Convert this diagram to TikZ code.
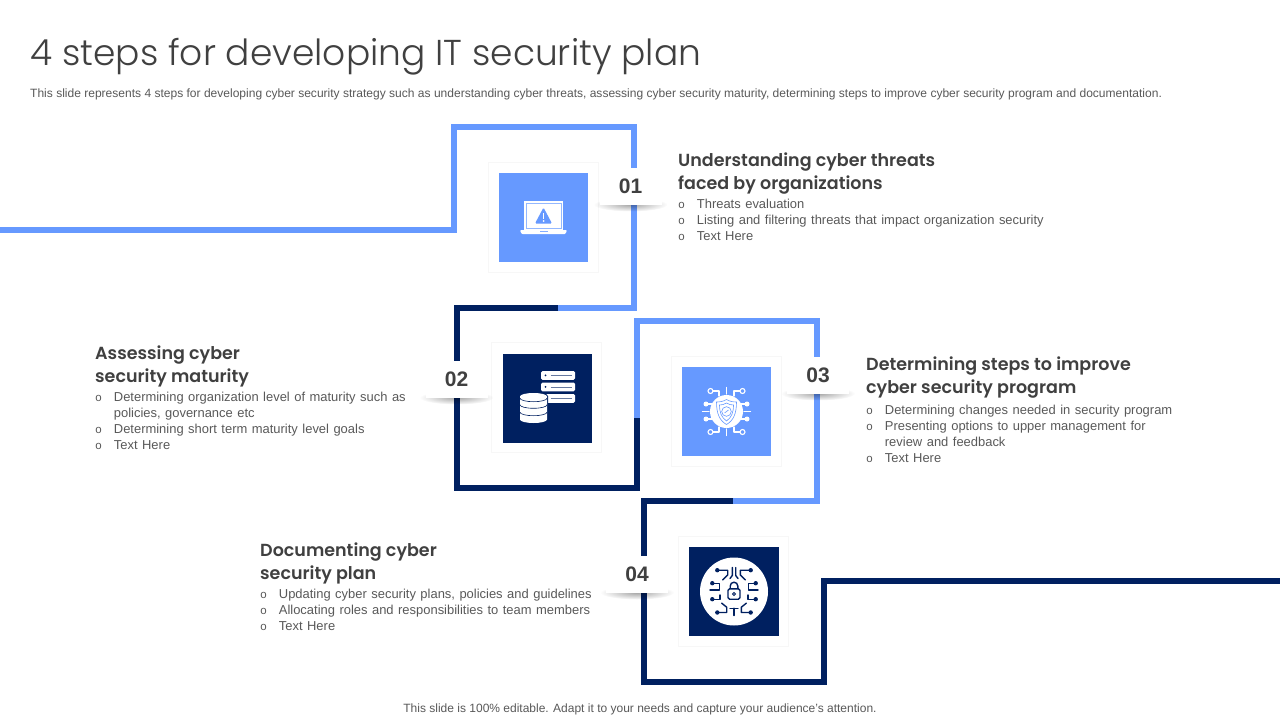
\documentclass[tikz,border=0pt]{standalone}
\usepackage{fontspec}
\setmainfont{Liberation Sans}
\newfontfamily\titlefont{Poppins Light}
\newfontfamily\headfont{Poppins SemiBold}
\newfontfamily\itemfont{Liberation Sans}[WordSpace=1.25]
\newfontfamily\bulletfont{Liberation Mono}
\usetikzlibrary{positioning, fadings}

\definecolor{lightblue}{HTML}{6699FF}
\definecolor{darkblue}{HTML}{002060}
\definecolor{headgray}{HTML}{404040}
\definecolor{bodygray}{HTML}{595959}

\tikzfading[name=softshadow, inner color=transparent!65, outer color=transparent!100]

\tikzset{
  track/.style={line width=6pt, miter limit=10},
  tile/.style={draw=black!3, fill=white, line width=1pt, minimum width=110pt, minimum height=110pt, inner sep=0pt},
  iconbox/.style={minimum width=89.5pt, minimum height=89.5pt, inner sep=0pt},
  badge/.style={fill=white, minimum width=62pt, minimum height=37pt, inner sep=0pt, font=\fontsize{21}{21}\selectfont\bfseries, text=headgray},
  head/.style={anchor=north west, inner sep=0pt, align=left, text=headgray, font=\headfont\fontsize{17.5}{23}\selectfont, execute at begin node={\rule{0pt}{14pt}}},
  items/.style={anchor=north west, inner sep=0pt, align=left, text=bodygray, font=\itemfont\fontsize{12.95}{16}\selectfont, execute at begin node={\rule{0pt}{10pt}}},
  wire/.style={line width=1.1pt, line cap=round, line join=round},
  darkwire/.style={darkblue, line width=1.4pt, line cap=round, line join=round}
}
\newcommand{\itm}{\makebox[18.7pt][l]{\bulletfont\fontsize{11.5}{11.5}\selectfont o}}
\newcommand{\cnt}{\makebox[18.7pt][l]{}}
% number badge with a soft shadow under it
\newcommand{\numbadge}[4]{
  \fill[black, path fading=softshadow] (#2,#3+18.5) ellipse (37 and 7);
  \node[badge] (#1) at (#2,#3) {#4};
}

\begin{document}
\begin{tikzpicture}[x=1pt, y=-1pt]
\useasboundingbox (0,0) rectangle (1280,720);
\fill[white] (0,0) rectangle (1280,720);

% corners of the track
\coordinate (t0) at (0,230);
\coordinate (t1) at (453.5,230);
\coordinate (t2) at (453.5,127);
\coordinate (t3) at (634,127);
\coordinate (t4) at (634,308);
\coordinate (t5) at (558,308);
\coordinate (t6) at (457,308);
\coordinate (t7) at (457,488);
\coordinate (t8) at (637,488);
\coordinate (t9) at (637,418);
\coordinate (t10) at (637,321);
\coordinate (t11) at (817,321);
\coordinate (t12) at (817,501);
\coordinate (t13) at (733,501);
\coordinate (t14) at (644,501);
\coordinate (t15) at (644,682);
\coordinate (t16) at (824,682);
\coordinate (t17) at (824,581);
\coordinate (t18) at (1280,581);

\draw[track, lightblue] (t0) -- (t1) -- (t2) -- (t3) -- (t4) -- (t5);
\draw[track, darkblue] (t5) -- (t6) -- (t7) -- (t8) -- (t9);
\draw[track, lightblue] (t9) -- (t10) -- (t11) -- (t12) -- (t13);
\draw[track, darkblue] (t13) -- (t14) -- (t15) -- (t16) -- (t17) -- (t18);

% tiles
\node[tile] (tileA) at (543.5,217) {};
\node[tile] (tileB) at (546.5,397.5) {};
\node[tile] (tileC) at (726.5,411) {};
\node[tile] (tileD) at (733.5,591) {};
\node[iconbox, fill=lightblue] (iconA) at (543.5,217.5) {};
\node[iconbox, fill=darkblue] (iconB) at (547.5,398.5) {};
\node[iconbox, fill=lightblue] (iconC) at (726.5,411.5) {};
\node[iconbox, fill=darkblue] (iconD) at (734,591.5) {};

% laptop
\begin{scope}[shift={(iconA)}]
\fill[white] (-19.5,-16.5) rectangle (19.5,12.5);
\draw[lightblue!70, line width=.8pt] (-17.5,-14.5) rectangle (17.5,10.5);
\fill[white, rounded corners=1pt] (-23.5,12.5) -- (23.5,12.5) -- (22,16.5) -- (-22,16.5) -- cycle;
\fill[lightblue!80] (-4,13.5) rectangle (4,14.3);
\fill[lightblue, rounded corners=1.2pt] (0,-10) -- (8.5,6) -- (-8.5,6) -- cycle;
\fill[white] (-.8,-5) rectangle (.8,1.5);
\fill[white] (0,3.5) circle (1pt);
\end{scope}

% servers and database
\begin{scope}[shift={(iconB)}]
\foreach \y in {-27.5,-16,-4.5} {
  \fill[white, rounded corners=1.5pt] (-6.5,\y) rectangle (27.5,\y+8.8);
  \draw[darkblue!60, line width=.7pt] (3,\y+4.4) -- (24.5,\y+4.4);
  \fill[darkblue] (-2,\y+4.4) circle (1pt);
}
\draw[darkblue, line width=2pt, fill=white] (-27.5,-2) arc[start angle=180, end angle=360, x radius=13.5, y radius=3.5] -- (-.5,21) arc[start angle=0, end angle=180, x radius=13.5, y radius=3.5] -- cycle;
\fill[white] (-27.5,-2) arc[start angle=180, end angle=360, x radius=13.5, y radius=3.5] -- (-.5,21) arc[start angle=0, end angle=180, x radius=13.5, y radius=3.5] -- cycle;
\foreach \y in {-.3,6.3,13.7} {
  \draw[darkblue, line width=.6pt] (-27.5,\y) arc[start angle=180, end angle=0, x radius=13.5, y radius=3.5];
}
\end{scope}

% shield with circuit
\begin{scope}[shift={(iconC)}]
\fill[white] (0,0) circle (16.5);
\foreach \a in {0,90,180,270} {
  \draw[white, wire, rotate=\a] (17.5,0) -- (24,0);
}
\foreach \sx in {1,-1} {
  \foreach \sy in {1,-1} {
    \draw[white, wire] (\sx*7.5,\sy*15.5) -- (\sx*7.5,\sy*20.5) -- (\sx*13.5,\sy*20.5);
    \draw[white, wire] (\sx*16,\sy*20.5) circle (2.5);
    \draw[white, wire] (\sx*14,\sy*7.5) -- (\sx*20,\sy*7.5);
    \fill[white] (\sx*20.5,\sy*7.5) circle (2.5);
  }
}
\draw[lightblue, line width=.6pt] (0,-12) .. controls (3,-10) and (7,-9.5) .. (10,-9.5) .. controls (10,2) and (7,9) .. (0,13) .. controls (-7,9) and (-10,2) .. (-10,-9.5) .. controls (-7,-9.5) and (-3,-10) .. cycle;
\draw[lightblue, line width=.6pt] (0,-8.5) .. controls (2,-7) and (5,-6.5) .. (7,-6.5) .. controls (7,1) and (5,6) .. (0,9.5) .. controls (-5,6) and (-7,1) .. (-7,-6.5) .. controls (-5,-6.5) and (-2,-7) .. cycle;
\draw[lightblue, line width=.6pt] (0,0) circle (4.8);
\draw[lightblue, line width=.6pt] (-2,1.5) -- (2,-1.5);
\end{scope}

% lock with circuit
\begin{scope}[shift={(iconD)}]
\fill[white] (0,0) circle (34);
\draw[darkblue, line width=1.4pt, rounded corners=1.5pt] (-6,-2.7) rectangle (6,7.7);
\draw[darkblue, line width=1.4pt] (-3.8,-2.7) -- (-3.8,-5.5) arc[start angle=180, end angle=360, radius=3.8] -- (3.8,-2.7);
\draw[darkblue, line width=1pt] (0,2.5) circle (1.5);
\foreach \sx in {1,-1} {
  \draw[darkwire] (\sx*16.7,-21.3) -- (\sx*6.3,-21.3) -- (\sx*6.3,-16.5) -- (\sx*11.3,-11.7);
  \fill[darkblue] (\sx*16.7,-21.3) circle (2.2);
  \draw[darkwire] (\sx*1.7,-24) -- (\sx*1.7,-16) -- (\sx*4,-13);
  \draw[darkwire] (\sx*21.7,-8.3) -- (\sx*14.7,-8.3) -- (\sx*14.7,-1.5) -- (\sx*24,-1.5);
  \fill[darkblue] (\sx*21.7,-8.3) circle (2.2);
  \draw[darkwire] (\sx*21.7,7.7) -- (\sx*14,7.7) -- (\sx*14,3.5);
  \fill[darkblue] (\sx*21.7,7.7) circle (2.2);
  \draw[darkwire] (\sx*16.7,21) -- (\sx*7.3,21) -- (\sx*7.3,15.7) -- (\sx*12.3,11.7);
  \fill[darkblue] (\sx*16.7,21) circle (2.2);
}
\draw[darkwire] (-4,16.7) -- (4,16.7);
\draw[darkwire] (0,16.7) -- (0,24);
\end{scope}

% number badges
\numbadge{numA}{630.5}{186}{01}
\numbadge{numB}{456.5}{379}{02}
\numbadge{numC}{818}{375}{03}
\numbadge{numD}{637}{574}{04}

% texts
\node[anchor=base west, inner sep=0pt, text=headgray, font=\titlefont\fontsize{36}{36}\selectfont] (title) at (30,65) {4 steps for developing IT security plan};
\node[anchor=base west, inner sep=0pt, text=bodygray, font=\fontsize{12.03}{12}\selectfont] (subtitle) at (30,97) {This slide represents 4 steps for developing cyber security strategy such as understanding cyber threats, assessing cyber security maturity, determining steps to improve cyber security program and documentation.};
\node[anchor=base, inner sep=0pt, text=bodygray, font=\fontsize{12}{12}\selectfont] (footer) at (640,712.5) {This slide is 100\% editable. Adapt it to your needs and capture your audience's attention.};

\node[head] (headA) at (678,153) {Understanding cyber threats\\faced by organizations};
\node[items] (itemsA) at (678,198.5) {\itm Threats evaluation\\\itm Listing and filtering threats that impact organization security\\\itm Text Here};

\node[head] (headB) at (95,346) {Assessing cyber\\security maturity};
\node[items] (itemsB) at (95,391.5) {\itm Determining organization level of maturity such as\\\cnt policies, governance etc\\\itm Determining short term maturity level goals\\\itm Text Here};

\node[head] (headC) at (866,357) {Determining steps to improve\\cyber security program};
\node[items] (itemsC) at (866,404.5) {\itm Determining changes needed in security program\\\itm Presenting options to upper management for\\\cnt review and feedback\\\itm Text Here};

\node[head] (headD) at (260,543) {Documenting cyber\\security plan};
\node[items] (itemsD) at (260,588.5) {\itm Updating cyber security plans, policies and guidelines\\\itm Allocating roles and responsibilities to team members\\\itm Text Here};
\end{tikzpicture}
\end{document}
